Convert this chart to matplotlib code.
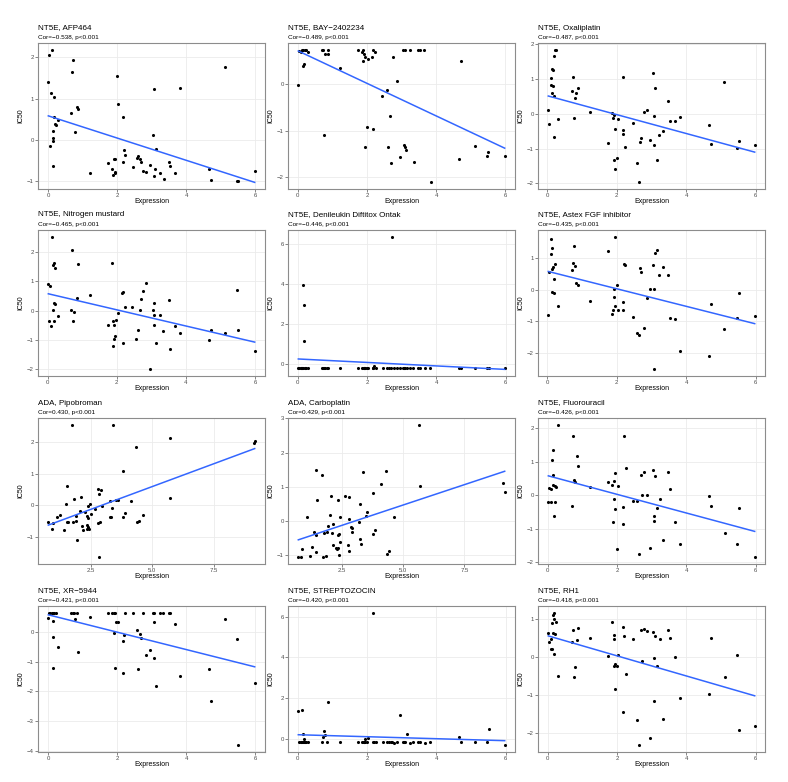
import numpy as np
import matplotlib
matplotlib.use("Agg")
import matplotlib.pyplot as plt
from matplotlib.ticker import FixedLocator

plt.rcParams['font.family'] = ['Liberation Sans', 'DejaVu Sans']

# ---- data ----
titles = ["NT5E, AFP464", "NT5E, BAY\u22122402234", "NT5E, Oxaliplatin",
          "NT5E, Nitrogen mustard", "NT5E, Denileukin Diftitox Ontak", "NT5E, Astex FGF inhibitor",
          "ADA, Pipobroman", "ADA, Carboplatin", "NT5E, Fluorouracil",
          "NT5E, XR\u22125944", "NT5E, STREPTOZOCIN", "NT5E, RH1"]
subtitles = ["Cor=\u22120.538, p<0.001", "Cor=\u22120.489, p<0.001", "Cor=\u22120.487, p<0.001",
             "Cor=\u22120.465, p<0.001", "Cor=\u22120.446, p<0.001", "Cor=\u22120.435, p<0.001",
             "Cor=0.430, p<0.001", "Cor=0.429, p<0.001", "Cor=\u22120.426, p<0.001",
             "Cor=\u22120.421, p<0.001", "Cor=\u22120.420, p<0.001", "Cor=\u22120.418, p<0.001"]

nt5e_x = [0.02, 0.05, 0.10, 0.11, 0.13, 0.14, 0.15, 0.16, 0.17, 0.18, 0.20, 0.22, 0.24, 0.30,
          0.70, 0.73, 0.76, 0.79, 0.84, 0.87, 1.23, 1.74, 1.86, 1.90, 1.91, 1.92, 1.94, 1.95,
          2.00, 2.03, 2.17, 2.18, 2.20, 2.25, 2.46, 2.58, 2.63, 2.68, 2.71, 2.77, 2.86, 2.96,
          3.04, 3.07, 3.08, 3.09, 3.15, 3.23, 3.34, 3.48, 3.53, 3.67, 3.82, 4.65, 4.72, 5.10,
          5.46, 5.51, 5.97]

afp_x = [0.03, 0.12, 0.01, 0.09, 0.17, 0.17, 0.20, 0.22, 0.29, 0.15, 0.14, 0.14, 0.07, 0.14,
         0.73, 0.71, 0.68, 0.84, 0.87, 0.77, 1.22, 1.73, 1.85, 1.88, 1.93, 1.95, 1.90, 1.93,
         1.99, 2.03, 2.17, 2.19, 2.24, 2.16, 2.45, 2.57, 2.62, 2.68, 2.71, 2.76, 2.85, 2.96,
         3.04, 3.08, 3.09, 3.08, 3.14, 3.24, 3.35, 3.50, 3.54, 3.68, 3.84, 4.66, 4.73, 5.12,
         5.48, 5.52, 5.99]
afp_y = [2.06, 2.18, 1.41, 1.13, 1.03, 0.55, 0.39, 0.37, 0.49, 0.22, 0.05, -0.03, -0.14, -0.62,
         1.92, 1.65, 0.66, 0.80, 0.74, 0.18, -0.79, -0.56, -0.71, -0.84, -0.80, -0.78, -0.47, -0.47,
         1.55, 0.87, 0.55, -0.25, -0.36, -0.53, -0.66, -0.44, -0.39, -0.47, -0.53, -0.74, -0.78, -0.60,
         0.12, 1.24, -0.71, -0.88, -0.22, -0.79, -0.95, -0.54, -0.63, -0.79, 1.26, -0.70, -0.96, 1.75,
         -0.98, -0.99, -0.74]

bay_x = [0.02, 0.05, 0.09, 0.12, 0.16, 0.20, 0.24, 0.29, 0.16, 0.19, 0.69, 0.73, 0.80, 0.87,
         0.88, 0.75, 1.22, 1.74, 1.86, 1.89, 1.91, 1.94, 1.90, 2.04, 2.19, 2.24, 2.16, 1.99,
         2.17, 1.94, 2.76, 2.86, 2.57, 2.45, 2.68, 2.62, 2.71, 2.95, 3.05, 3.09, 3.24, 3.49,
         3.53, 3.66, 3.08, 3.10, 3.14, 3.35, 3.84, 4.65, 4.73, 5.11, 5.46, 5.51, 5.98]
bay_y = [-0.01, 0.73, 0.70, 0.75, 0.75, 0.75, 0.75, 0.69, 0.40, 0.45, 0.75, 0.75, 0.65, 0.75,
         0.65, -1.09, 0.36, 0.75, 0.70, 0.75, 0.65, 0.60, 0.50, 0.55, 0.75, 0.69, 0.58, -0.92,
         -0.97, -1.35, 0.58, 0.08, -0.12, -0.26, -0.68, -1.35, -1.71, -1.58, 0.75, 0.75, 0.75, 0.75,
         0.75, 0.75, -1.32, -1.35, -1.42, -1.67, -2.12, -1.62, 0.51, -1.34, -1.55, -1.47, -1.54]

oxa_x = [0.03, 0.05, 0.11, 0.11, 0.14, 0.16, 0.14, 0.16, 0.18, 0.18, 0.20, 0.22, 0.24, 0.30,
         0.70, 0.73, 0.76, 0.79, 0.84, 0.87, 1.23, 1.74, 1.86, 1.90, 1.91, 1.92, 1.94, 1.95,
         2.00, 2.03, 2.17, 2.18, 2.19, 2.25, 2.46, 2.58, 2.63, 2.68, 2.71, 2.77, 2.86, 2.97,
         3.04, 3.07, 3.09, 3.08, 3.15, 3.23, 3.34, 3.48, 3.53, 3.67, 3.82, 4.65, 4.72, 5.10,
         5.46, 5.51, 5.97]
oxa_y = [0.11, -0.28, 1.03, 0.84, 1.30, 1.27, 0.61, 0.80, 1.66, 0.51, -0.67, 1.85, 1.83, -0.16,
         0.65, 1.05, -0.13, 0.47, 0.60, 0.74, 0.06, -0.83, 0.04, -0.13, -1.32, -0.04, -0.42, -1.59,
         -1.28, -0.14, 1.05, -0.46, -0.59, -0.94, -0.27, -1.42, -1.97, -0.82, -0.68, 0.06, 0.10, -0.74,
         1.19, -0.06, 0.74, -0.90, -1.32, -0.60, -0.48, 0.37, -0.19, -0.21, -0.10, -0.33, -0.88, 0.91,
         -0.99, -0.78, -0.89]

nit_x = [0.02, 0.07, 0.03, 0.09, 0.14, 0.15, 0.17, 0.21, 0.17, 0.20, 0.15, 0.17, 0.29, 0.71,
         0.87, 0.69, 0.77, 0.74, 0.85, 1.22, 1.74, 1.86, 1.90, 1.91, 1.95, 1.93, 1.89, 1.98,
         2.03, 2.15, 2.18, 2.17, 2.24, 2.45, 2.57, 2.61, 2.68, 2.71, 2.76, 2.85, 2.96, 3.04,
         3.08, 3.09, 3.08, 3.14, 3.24, 3.35, 3.50, 3.54, 3.68, 3.84, 4.66, 4.73, 5.12, 5.48,
         5.52, 5.99]
nit_y = [0.93, 0.86, -0.34, -0.51, 2.53, 1.55, 1.64, 1.45, 0.26, 0.23, 0.02, -0.36, -0.19, 2.06,
         1.61, 0.02, -0.05, -0.34, 0.43, 0.55, -0.50, 1.64, -0.36, -0.48, -0.86, -0.97, -1.20, -0.31,
         -0.08, 0.61, 0.65, -1.09, 0.14, 0.14, -0.97, -0.67, 0.02, 0.41, 0.67, 0.95, -2.00, 0.03,
         0.25, -0.13, -0.48, -1.09, -0.15, -0.70, 0.38, -1.30, -0.52, -0.76, -1.01, -0.64, -0.77, 0.70,
         -0.64, -1.39]

den_y = [-0.2, -0.2, -0.2, -0.2, -0.2, -0.2, -0.2, 3.95, 2.96, 1.13, -0.2, -0.2, -0.2, -0.2,
         -0.2, -0.2, -0.2, -0.2, -0.2, -0.2, -0.2, -0.2, -0.2, -0.2, -0.2, -0.2, -0.2, -0.2,
         -0.2, -0.2, -0.2, -0.2, -0.1, -0.2, -0.2, -0.2, -0.2, -0.2, 6.35, -0.2, -0.2, -0.2,
         -0.2, -0.2, -0.2, -0.2, -0.2, -0.2, -0.2, -0.2, -0.2, -0.2, -0.2, -0.2, -0.2, -0.2,
         -0.2, -0.2, -0.2]

ast_x = [0.03, 0.05, 0.10, 0.11, 0.15, 0.13, 0.16, 0.14, 0.18, 0.20, 0.22, 0.30, 0.70, 0.73,
         0.76, 0.79, 0.84, 0.87, 1.23, 1.74, 1.86, 1.90, 1.91, 1.92, 1.94, 1.95, 2.00, 2.03,
         2.17, 2.18, 2.20, 2.25, 2.46, 2.58, 2.63, 2.68, 2.71, 2.77, 2.86, 2.96, 3.04, 3.08,
         3.09, 3.08, 3.15, 3.23, 3.34, 3.48, 3.53, 3.67, 3.82, 4.65, 4.72, 5.10, 5.46, 5.51,
         5.97]
ast_y = [-0.80, 0.55, 1.62, 1.12, 1.31, 0.67, 0.71, -0.07, -0.09, 0.35, 0.80, -0.53, 0.62, 0.86,
         1.39, 0.75, 0.20, 0.16, -0.36, 1.21, -0.77, -0.65, -0.23, 0.03, 1.68, -0.53, 0.14, -0.65,
         -0.65, -0.39, 0.80, 0.78, -0.86, -1.38, -1.42, 0.69, 0.57, -1.22, -0.26, 0.03, 0.77, 0.03,
         1.15, -2.52, 1.27, 0.47, 0.71, 0.47, -0.89, -0.94, -1.95, -2.09, -0.45, -1.24, -0.89, -0.11,
         -0.83]

pip_x = [0.79, 0.92, 0.96, 1.14, 1.26, 1.42, 1.49, 1.53, 1.53, 1.58, 1.76, 1.80, 1.81, 1.91,
         1.93, 1.97, 2.06, 2.11, 2.17, 2.18, 2.26, 2.34, 2.35, 2.36, 2.39, 2.40, 2.40, 2.44,
         2.47, 2.50, 2.67, 2.82, 2.84, 2.82, 2.84, 2.90, 2.94, 2.97, 3.30, 3.30, 3.32, 3.36,
         3.42, 3.54, 3.59, 3.82, 3.82, 3.89, 4.12, 4.35, 4.39, 4.44, 4.64, 5.71, 5.72, 9.12,
         9.14]
pip_y = [-0.53, -0.74, -0.57, -0.36, -0.32, -0.78, 0.05, 0.61, -0.53, -0.53, 2.55, -0.52, 0.20, -0.33,
         -0.49, -1.09, -0.18, 0.25, -0.67, -0.78, -0.22, -0.33, -0.64, -0.76, -0.40, -0.04, -0.69, -0.74,
         0.05, -0.29, -0.13, 0.51, 0.35, -0.57, -1.65, -0.52, 0.47, -0.04, 0.13, -0.37, -0.36, -0.09,
         2.54, 0.15, 0.16, 1.07, -0.36, -0.25, 0.12, 1.84, -0.53, -0.49, -0.31, 0.23, 2.13, 1.98,
         2.03]

car_x = [0.74, 0.86, 0.91, 1.09, 1.21, 1.29, 1.39, 1.46, 1.47, 1.48, 1.51, 1.69, 1.74, 1.78,
         1.85, 1.89, 1.94, 2.01, 2.05, 2.11, 2.14, 2.17, 2.28, 2.31, 2.35, 2.36, 2.35, 2.38,
         2.39, 2.43, 2.45, 2.64, 2.77, 2.79, 2.79, 2.80, 2.87, 2.92, 2.94, 3.22, 3.26, 3.26,
         3.31, 3.38, 3.50, 3.54, 3.79, 3.80, 3.86, 4.09, 4.32, 4.36, 4.42, 4.62, 5.67, 5.69,
         9.09, 9.14]
car_y = [-1.06, -1.06, -0.83, 0.11, -1.02, -0.75, -0.31, -0.89, -0.41, 1.50, 0.61, 1.36, -1.06, -0.35,
         -1.02, -0.32, -0.13, 0.17, 0.73, -0.34, -0.70, -0.08, -0.78, -0.81, -0.42, 0.63, -0.80, -0.38,
         -1.00, 0.13, -0.60, 0.74, -0.70, 0.05, -0.87, 0.71, -0.17, -0.31, -0.19, -0.04, 0.49, -0.52,
         -0.67, 1.45, 0.14, 0.26, -0.38, 0.83, -0.26, 1.09, 1.46, -0.97, -0.86, 0.13, 2.82, 1.03,
         1.11, 0.86]

flu_x = [0.02, 0.05, 0.10, 0.11, 0.13, 0.15, 0.15, 0.16, 0.17, 0.20, 0.24, 0.22, 0.30, 0.70,
         0.73, 0.76, 0.79, 0.84, 0.87, 1.23, 1.74, 1.86, 1.89, 1.90, 1.91, 1.94, 1.95, 2.00,
         2.03, 2.17, 2.18, 2.20, 2.25, 2.46, 2.58, 2.63, 2.68, 2.71, 2.77, 2.86, 2.96, 3.04,
         3.07, 3.09, 3.08, 3.15, 3.23, 3.34, 3.48, 3.53, 3.67, 3.82, 4.65, 4.72, 5.10, 5.46,
         5.51, 5.97]
flu_y = [-0.22, 0.22, 0.19, -0.20, 1.04, 1.33, 0.59, 0.31, -0.62, 0.28, 0.25, -0.20, 2.10, -0.34,
         1.75, 0.44, 0.40, 1.17, 0.88, 0.25, 0.39, 0.29, -0.81, 0.42, -0.11, 0.66, -0.42, -1.62,
         0.27, -0.35, -0.87, 1.76, 0.81, -0.18, -0.19, -1.77, 0.59, 0.00, 0.68, 0.00, -1.58, 0.75,
         -0.64, 0.58, -0.78, -0.39, -0.12, -1.33, 0.70, 0.19, -0.81, -1.45, -0.02, -0.32, -1.13, -1.46,
         -0.39, -1.86]

xr_x = [0.01, 0.03, 0.07, 0.11, 0.14, 0.18, 0.22, 0.15, 0.14, 0.14, 0.29, 0.68, 0.72, 0.75,
        0.77, 0.85, 0.87, 1.22, 1.74, 1.85, 1.90, 1.94, 1.91, 1.93, 1.98, 2.03, 2.19, 2.16,
        2.17, 2.24, 2.45, 2.57, 2.62, 2.68, 2.71, 2.75, 2.85, 2.96, 3.03, 3.08, 3.07, 3.08,
        3.14, 3.24, 3.34, 3.50, 3.54, 3.68, 3.84, 4.66, 4.73, 5.12, 5.48, 5.52, 5.99]
xr_y = [0.47, 0.65, 0.65, 0.65, 0.65, 0.65, 0.65, 0.38, -0.16, -1.20, -0.51, 0.65, 0.65, 0.65,
        0.42, 0.65, -0.66, 0.49, 0.65, 0.65, 0.65, 0.65, -0.04, -1.21, 0.35, 0.33, -0.09, -0.29,
        -1.37, 0.65, 0.65, 0.08, -1.25, -0.07, -0.21, 0.65, -0.77, -0.61, 0.65, 0.65, 0.33, -0.88,
        -1.82, 0.65, 0.65, 0.65, 0.65, 0.26, -1.49, -1.25, -2.31, 0.45, -0.24, -3.81, -1.73]

stz_y = [1.36, -0.18, -0.18, -0.18, -0.18, 1.39, -0.18, 0.25, -0.03, -0.18, -0.18, -0.18, -0.18, -0.18,
         -0.18, 0.08, 0.38, 0.16, -0.18, 1.81, -0.18, -0.18, -0.18, -0.18, -0.18, -0.18, -0.02, -0.18,
         -0.18, 0.05, 6.21, -0.18, -0.18, -0.18, -0.18, -0.18, -0.18, -0.18, -0.18, -0.22, -0.18, 1.16,
         -0.18, -0.18, -0.18, -0.18, 0.23, -0.22, -0.18, -0.18, -0.18, -0.22, -0.18, 0.08, -0.18, -0.18,
         -0.18, 0.49, -0.33]

rh1_x = [0.02, 0.05, 0.10, 0.11, 0.14, 0.14, 0.16, 0.17, 0.16, 0.19, 0.18, 0.22, 0.24, 0.30,
         0.70, 0.73, 0.76, 0.79, 0.84, 0.87, 1.23, 1.74, 1.86, 1.90, 1.90, 1.91, 1.94, 1.95,
         2.00, 2.03, 2.17, 2.17, 2.20, 2.25, 2.46, 2.58, 2.63, 2.68, 2.71, 2.77, 2.86, 2.96,
         3.04, 3.07, 3.09, 3.08, 3.15, 3.23, 3.34, 3.48, 3.53, 3.67, 3.82, 4.65, 4.72, 5.10,
         5.46, 5.51, 5.97]
rh1_y = [0.64, 0.39, 0.47, 0.21, 0.21, 0.89, 1.12, 1.17, 0.62, 1.00, 0.07, 0.61, 0.93, -0.50,
         0.40, 0.71, -0.54, -0.27, 0.44, 0.77, 0.51, 0.02, 0.92, 0.59, 0.46, -0.23, -0.20, -0.85,
         -0.25, 0.06, 0.79, -1.47, 0.54, -0.46, 0.47, -1.67, -2.34, 0.71, -0.11, 0.75, 0.68, -2.14,
         0.66, -0.02, 0.56, -1.18, -0.23, 0.47, -1.63, 0.70, 0.51, -0.01, -1.08, -0.99, 0.50, -0.54,
         0.05, -1.93, -1.84]

xs = [afp_x, bay_x, oxa_x, nit_x, nt5e_x, ast_x, pip_x, car_x, flu_x, xr_x, nt5e_x, rh1_x]
ys = [afp_y, bay_y, oxa_y, nit_y, den_y, ast_y, pip_y, car_y, flu_y, xr_y, stz_y, rh1_y]

nt5e_ticks = [0, 2, 4, 6]
ada_ticks = [2.5, 5.0, 7.5]
x_ticks = [nt5e_ticks] * 6 + [ada_ticks, ada_ticks] + [nt5e_ticks] * 4
y_ticks = [[-1, 0, 1, 2], [-2, -1, 0], [-2, -1, 0, 1, 2],
           [-2, -1, 0, 1, 2], [0, 2, 4, 6], [-2, -1, 0, 1],
           [-1, 0, 1, 2], [-1, 0, 1, 2, 3], [-2, -1, 0, 1, 2],
           [-4, -3, -2, -1, 0], [0, 2, 4, 6], [-2, -1, 0, 1]]

# ---- layout in pixels ----
W, H = 788, 782
fig = plt.figure(figsize=(W / 100, H / 100), dpi=100)
lefts = [38, 288, 538]
tops = [43, 230, 418, 606]
pw, ph = 227, 146

for i in range(12):
    r, c = divmod(i, 3)
    L, T = lefts[c], tops[r]
    ax = fig.add_axes([L / W, 1 - (T + ph) / H, pw / W, ph / H])
    x = np.array(xs[i])
    y = np.array(ys[i])

    ax.scatter(x, y, s=5, color='black', zorder=3, linewidths=0)
    k, b = np.polyfit(x, y, 1)
    xl = np.array([x.min(), x.max()])
    ax.plot(xl, k * xl + b, color='#3366FF', lw=1.1, zorder=4)

    ax.margins(x=0.05, y=0.05)
    ax.set_xticks(x_ticks[i])
    ax.set_yticks(y_ticks[i])
    if i in (6, 7):
        ax.set_xticklabels(['2.5', '5.0', '7.5'])
    xt, yt = x_ticks[i], y_ticks[i]
    dx = (xt[1] - xt[0]) / 2
    dy = (yt[1] - yt[0]) / 2
    ax.xaxis.set_minor_locator(FixedLocator(np.arange(xt[0] - dx * 3, xt[-1] + dx * 3, dx * 2) + dx))
    ax.yaxis.set_minor_locator(FixedLocator(np.arange(yt[0] - dy * 3, yt[-1] + dy * 3, dy * 2) + dy))
    ax.grid(which='major', color='#ebebeb', lw=0.6, zorder=0)
    ax.grid(which='minor', color='#f2f2f2', lw=0.35, zorder=0)
    ax.set_axisbelow(True)
    ax.tick_params(which='major', length=2, width=0.5, color='#555555',
                   labelsize=4.3, labelcolor='#4d4d4d', pad=1)
    ax.tick_params(which='minor', length=0)
    for s in ax.spines.values():
        s.set_color('#8c8c8c')
        s.set_linewidth(0.8)
    ax.set_xlabel('Expression', fontsize=5)
    ax.set_ylabel('IC50', fontsize=5)
    ax.xaxis.set_label_coords(0.5, -0.065)
    ax.yaxis.set_label_coords(-0.06, 0.5)

    fig.text(L / W, 1 - (T - 15) / H, titles[i], fontsize=5.8, va='center', ha='left')
    fig.text(L / W, 1 - (T - 5.5) / H, subtitles[i], fontsize=4.6, va='center', ha='left')

fig.savefig('out.png', dpi=100)
